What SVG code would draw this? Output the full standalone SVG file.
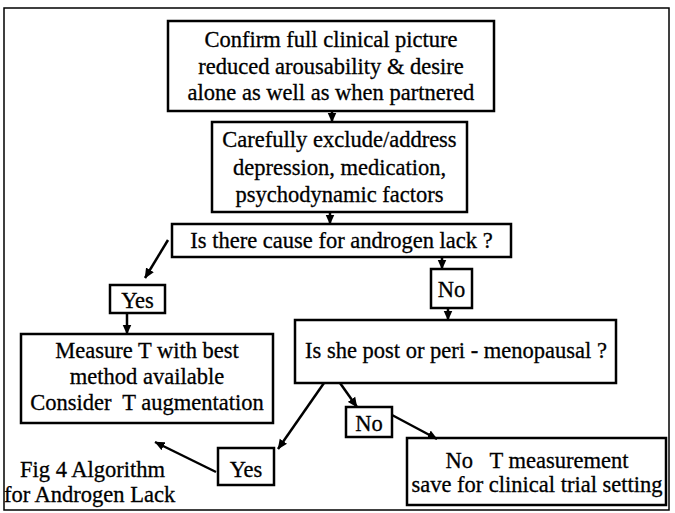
<svg xmlns="http://www.w3.org/2000/svg" width="675" height="513" viewBox="0 0 675 513">
<style>
.box{fill:#fff;stroke:#000;stroke-width:2.5}
.t{font-family:"Liberation Serif","Times New Roman","DejaVu Serif",serif;font-size:22.5px;fill:#000;stroke:#000;stroke-width:0.3;text-anchor:middle;white-space:pre}
.s{text-anchor:start}
.c{stroke:#000;stroke-width:2.5;fill:none;marker-end:url(#ah)}
</style>
<defs>
<marker id="ah" markerUnits="userSpaceOnUse" markerWidth="10" markerHeight="10" viewBox="0 0 10 10" refX="9.5" refY="5" orient="auto"><path d="M0,0.5 L10,5 L0,9.5 Z" fill="#000"/></marker>
</defs>
<rect x="4" y="8" width="665" height="502" fill="#fff" stroke="#000" stroke-width="1.5"/>
<g id="n1"><rect class="box" x="168" y="21" width="326" height="90"/>
<text class="t" x="331" y="47">Confirm full clinical picture</text>
<text class="t" x="331" y="74">reduced arousability &amp; desire</text>
<text class="t" x="331" y="100">alone as well as when partnered</text></g>
<g id="n2"><rect class="box" x="212" y="122" width="255" height="90"/>
<text class="t" x="339.5" y="147">Carefully exclude/address</text>
<text class="t" x="339.5" y="175">depression, medication,</text>
<text class="t" x="339.5" y="202">psychodynamic factors</text></g>
<g id="n3"><rect class="box" x="172" y="224" width="339" height="33"/>
<text class="t" x="341.5" y="248">Is there cause for androgen lack ?</text></g>
<g id="n4"><rect class="box" x="110" y="285" width="55" height="28"/>
<text class="t" x="137.5" y="308">Yes</text></g>
<g id="n5"><rect class="box" x="431" y="269" width="41" height="39"/>
<text class="t" x="451.5" y="297">No</text></g>
<g id="n6"><rect class="box" x="295" y="320" width="321" height="63"/>
<text class="t" x="456" y="358">Is she post or peri - menopausal ?</text></g>
<g id="n7"><rect class="box" x="21" y="334" width="252" height="89"/>
<text class="t" x="147" y="358">Measure T with best</text>
<text class="t" x="147" y="384">method available</text>
<text class="t" x="147" y="410">Consider  T augmentation</text></g>
<g id="n8"><rect class="box" x="346" y="407" width="46" height="30"/>
<text class="t" x="369" y="431">No</text></g>
<g id="n9"><rect class="box" x="218" y="448" width="56" height="37"/>
<text class="t" x="246" y="477">Yes</text></g>
<g id="n10"><rect class="box" x="407" y="438" width="259" height="67"/>
<text class="t" x="537" y="468">No   T measurement</text>
<text class="t" x="537" y="492">save for clinical trial setting</text></g>
<g id="caption">
<text class="t s" x="20" y="477">Fig 4 Algorithm</text>
<text class="t s" x="4" y="502">for Androgen Lack</text></g>
<g id="connectors">
<path class="c" d="M332,111 L332,122"/>
<path class="c" d="M330,212 L330,224"/>
<path class="c" d="M442,257 L442,269"/>
<path class="c" d="M448,308 L448,320"/>
<path class="c" d="M168,240 L145,278"/>
<path class="c" d="M127,313 L127,334"/>
<path class="c" d="M324,383 L278,449"/>
<path class="c" d="M340,383 L357,407"/>
<path class="c" d="M392,415 L437,439"/>
<path class="c" d="M216,472 L155,442"/>
</g>
</svg>
